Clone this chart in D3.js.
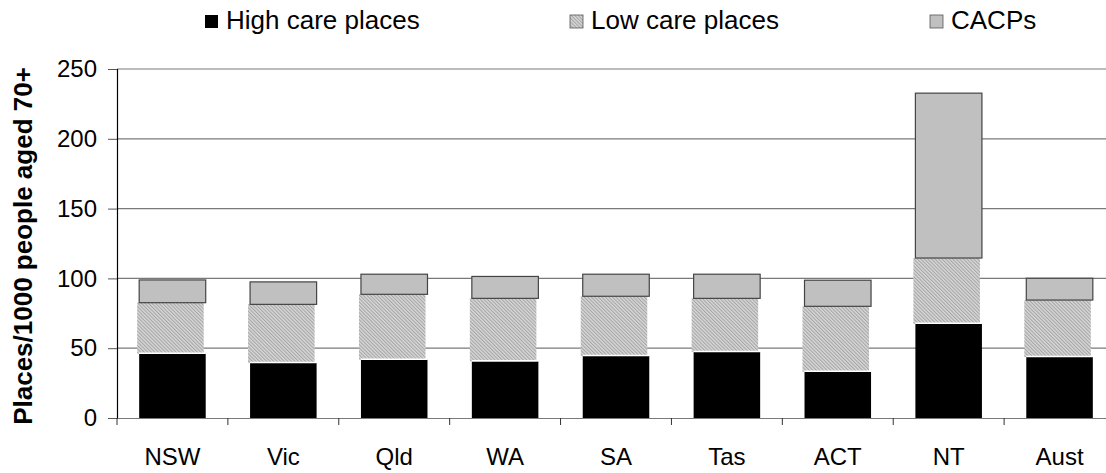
<!DOCTYPE html>
<html>
<head>
<meta charset="utf-8">
<script src="https://cdn.jsdelivr.net/npm/d3@7"></script>
<style>
  body { margin: 0; background: #fff; }
  text { font-family: "Liberation Sans", Arial, sans-serif; }
</style>
</head>
<body>
<svg id="chart"></svg>
<script>
const states = ["NSW", "Vic", "Qld", "WA", "SA", "Tas", "ACT", "NT", "Aust"];
const highCare = [46.1, 39.4, 41.8, 40.6, 44.4, 47.3, 33.1, 67.5, 43.7];
const lowCare = [36.5, 42.0, 46.8, 45.1, 42.8, 38.4, 46.9, 47.1, 40.8];
const cacps = [16.3, 16.1, 14.4, 15.7, 15.8, 17.3, 18.7, 118.1, 15.6];
const seriesNames = ["High care places", "Low care places", "CACPs"];
const yTicks = [0, 50, 100, 150, 200, 250];

const width = 1106, height = 473;
const plotLeft = 117, plotRight = 1115, plotTop = 69, plotBottom = 418;
const fontSize = 24;

const svg = d3.select("#chart")
    .attr("width", width)
    .attr("height", height);

// hatch pattern for low care
const defs = svg.append("defs");
const pat = defs.append("pattern")
    .attr("id", "hatch")
    .attr("patternUnits", "userSpaceOnUse")
    .attr("width", 2.5)
    .attr("height", 2.5)
    .attr("patternTransform", "rotate(-45)");
pat.append("rect").attr("width", 2.5).attr("height", 2.5).attr("fill", "#d6d6d6");
pat.append("rect").attr("width", 1).attr("height", 2.5).attr("fill", "#a4a4a4");

const x = d3.scaleBand()
    .domain(states)
    .range([plotLeft, plotRight])
    .paddingInner(0.4)
    .paddingOuter(0.2);

const y = d3.scaleLinear()
    .domain([0, 250])
    .range([plotBottom, plotTop]);

// gridlines
svg.append("g")
    .selectAll("line")
    .data(yTicks.filter(d => d > 0))
    .enter()
    .append("line")
    .attr("x1", plotLeft)
    .attr("x2", plotRight)
    .attr("y1", d => y(d))
    .attr("y2", d => y(d))
    .attr("stroke", "#7a7a7a")
    .attr("stroke-width", 1.2);

// stacked data
const rows = states.map((s, i) => ({state: s, high: highCare[i], low: lowCare[i], cacp: cacps[i]}));
const stack = d3.stack().keys(["high", "low", "cacp"])(rows);
const fills = ["#000000", "url(#hatch)", "#c0c0c0"];

stack.forEach((layer, li) => {
    const g = svg.append("g");
    g.selectAll("rect")
        .data(layer)
        .enter()
        .append("rect")
        .attr("x", d => x(d.data.state) - (li === 1 ? 2 : 0))
        .attr("width", x.bandwidth())
        .attr("y", d => y(d[1]))
        .attr("height", d => y(d[0]) - y(d[1]))
        .attr("fill", fills[li])
        .attr("stroke", li === 2 ? "#444" : "none")
        .attr("stroke-width", 1.2);
    if (li === 1) {
        // white line on the bottom of the hatched part
        g.selectAll("line")
            .data(layer)
            .enter()
            .append("line")
            .attr("x1", d => x(d.data.state))
            .attr("x2", d => x(d.data.state) + x.bandwidth())
            .attr("y1", d => y(d[0]) - 0.5)
            .attr("y2", d => y(d[0]) - 0.5)
            .attr("stroke", "#fff")
            .attr("stroke-width", 1.5);
    }
});

// y axis
const yAxis = svg.append("g")
    .attr("transform", `translate(${plotLeft},0)`)
    .call(d3.axisLeft(y).tickValues(yTicks).tickSize(9).tickPadding(11));
yAxis.select(".domain").attr("stroke", "#000").attr("stroke-width", 1.2);
yAxis.selectAll(".tick line").attr("stroke", "#555");
yAxis.selectAll("text").attr("font-size", fontSize).attr("fill", "#000")
    .style("font-family", "Liberation Sans, Arial, sans-serif");

// x axis
const xAxis = svg.append("g")
    .attr("transform", `translate(0,${plotBottom})`)
    .call(d3.axisBottom(x).tickSize(0));
xAxis.select(".domain").attr("stroke", "#7a7a7a").attr("stroke-width", 1.2);
xAxis.selectAll("text")
    .attr("y", 47)
    .attr("dy", null)
    .attr("font-size", fontSize).attr("fill", "#000")
    .style("font-family", "Liberation Sans, Arial, sans-serif");

// category separators on x axis
const step = x.step();
svg.append("g")
    .selectAll("line")
    .data(states)
    .enter()
    .append("line")
    .attr("x1", d => x(d) - x.paddingOuter() * step)
    .attr("x2", d => x(d) - x.paddingOuter() * step)
    .attr("y1", plotBottom)
    .attr("y2", plotBottom + 7)
    .attr("stroke", "#333");

// y label
svg.append("text")
    .attr("transform", `translate(32,246) rotate(-90)`)
    .attr("text-anchor", "middle")
    .attr("font-size", 26)
    .attr("font-weight", "bold")
    .text("Places/1000 people aged 70+");

// legend
const legendX = [205, 570, 930];
const legendFills = ["#000000", "url(#hatch)", "#c0c0c0"];
const legend = svg.append("g");
seriesNames.forEach((name, i) => {
    legend.append("rect")
        .attr("x", legendX[i])
        .attr("y", 15)
        .attr("width", 13)
        .attr("height", 13)
        .attr("fill", legendFills[i])
        .attr("stroke", i === 0 ? "none" : "#555")
        .attr("stroke-width", 0.8);
    legend.append("text")
        .attr("x", legendX[i] + 21)
        .attr("y", 29)
        .attr("font-size", 26)
        .text(name);
});
</script>
</body>
</html>
